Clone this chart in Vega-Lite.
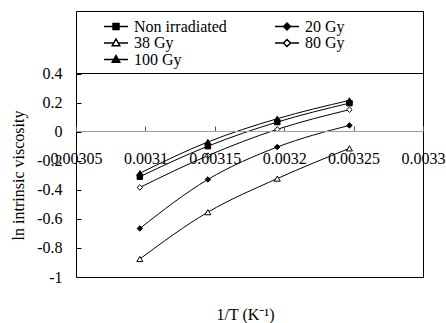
{
  "$schema": "https://vega.github.io/schema/vega-lite/v6.json",
  "autosize": "none",
  "padding": {"left": 76, "top": 11, "right": 23, "bottom": 46},
  "width": 347,
  "height": 266,
  "config": {
    "font": "Liberation Serif, Times New Roman, serif",
    "view": {"stroke": "#000000", "strokeWidth": 1},
    "axis": {"labelFont": "Liberation Serif, Times New Roman, serif", "titleFont": "Liberation Serif, Times New Roman, serif", "labelFontSize": 16, "titleFontSize": 16, "labelColor": "#000", "titleColor": "#000", "titleFontWeight": "normal", "grid": false},
    "legend": {"labelFont": "Liberation Serif, Times New Roman, serif", "labelFontSize": 16, "labelColor": "#000"}
  },
  "data": {"values": [
    {"invT": 0.003096, "lnv": -0.310, "series": "Non irradiated"},
    {"invT": 0.003145, "lnv": -0.100, "series": "Non irradiated"},
    {"invT": 0.003195, "lnv": 0.066, "series": "Non irradiated"},
    {"invT": 0.003247, "lnv": 0.196, "series": "Non irradiated"},
    {"invT": 0.003096, "lnv": -0.666, "series": "20 Gy"},
    {"invT": 0.003145, "lnv": -0.329, "series": "20 Gy"},
    {"invT": 0.003195, "lnv": -0.106, "series": "20 Gy"},
    {"invT": 0.003247, "lnv": 0.043, "series": "20 Gy"},
    {"invT": 0.003096, "lnv": -0.876, "series": "38 Gy"},
    {"invT": 0.003145, "lnv": -0.554, "series": "38 Gy"},
    {"invT": 0.003195, "lnv": -0.323, "series": "38 Gy"},
    {"invT": 0.003247, "lnv": -0.115, "series": "38 Gy"},
    {"invT": 0.003096, "lnv": -0.384, "series": "80 Gy"},
    {"invT": 0.003145, "lnv": -0.165, "series": "80 Gy"},
    {"invT": 0.003195, "lnv": 0.016, "series": "80 Gy"},
    {"invT": 0.003247, "lnv": 0.151, "series": "80 Gy"},
    {"invT": 0.003096, "lnv": -0.286, "series": "100 Gy"},
    {"invT": 0.003145, "lnv": -0.071, "series": "100 Gy"},
    {"invT": 0.003195, "lnv": 0.089, "series": "100 Gy"},
    {"invT": 0.003247, "lnv": 0.215, "series": "100 Gy"}
  ]},
  "encoding": {
    "x": {"field": "invT", "type": "quantitative",
      "scale": {"domain": [0.00305, 0.0033], "nice": false, "zero": false},
      "axis": {"orient": "bottom", "offset": -146, "values": [0.00305, 0.0031, 0.00315, 0.0032, 0.00325, 0.0033],
        "labelExpr": "toString(datum.value)", "labelOverlap": false, "labelFlush": false, "labelBound": false,
        "domainColor": "#a0a0a0", "tickColor": "#555555", "tickSize": {"expr": "-5"}, "labelPadding": 32, "labelBaseline": "middle",
        "title": "1/T (K⁻¹)", "titleX": 169, "titleY": 188, "titleAlign": "center", "titleBaseline": "alphabetic", "zindex": 1}},
    "y": {"field": "lnv", "type": "quantitative",
      "scale": {"domain": [-1, 0.83], "nice": false, "zero": false},
      "axis": {"values": [-1, -0.8, -0.6, -0.4, -0.2, 0, 0.2, 0.4], "labelExpr": "toString(datum.value)",
        "domain": false, "tickColor": "#000", "tickSize": {"expr": "-5"}, "labelPadding": 19, "labelBaseline": "middle",
        "title": "ln intrinsic viscosity", "titleAngle": 270, "titleX": -53, "titleY": 164, "titleAlign": "center", "titleBaseline": "alphabetic"}}
  },
  "layer": [
    {"mark": {"type": "rule", "color": "#000", "strokeWidth": 1}, "encoding": {"y": {"datum": 0.4}, "x": {"value": 0}, "x2": {"value": 347}}},
    {"mark": {"type": "line", "color": "#000", "strokeWidth": 1, "interpolate": "monotone"},
      "encoding": {"detail": {"field": "series"}}},
    {"transform": [{"filter": "datum.series === 'Non irradiated'"}],
      "mark": {"type": "point", "shape": "square", "filled": true, "fill": "#000", "stroke": "#000", "strokeWidth": 1, "opacity": 1, "size": 30}},
    {"transform": [{"filter": "datum.series === '20 Gy'"}],
      "mark": {"type": "point", "shape": "diamond", "filled": true, "fill": "#000", "stroke": "#000", "strokeWidth": 1, "opacity": 1, "size": 30}},
    {"transform": [{"filter": "datum.series === '38 Gy'"}],
      "mark": {"type": "point", "shape": "triangle-up", "filled": true, "fill": "#fff", "stroke": "#000", "strokeWidth": 1, "opacity": 1, "size": 36}},
    {"transform": [{"filter": "datum.series === '80 Gy'"}],
      "mark": {"type": "point", "shape": "diamond", "filled": true, "fill": "#fff", "stroke": "#000", "strokeWidth": 1, "opacity": 1, "size": 30}},
    {"transform": [{"filter": "datum.series === '100 Gy'"}],
      "mark": {"type": "point", "shape": "triangle-up", "filled": true, "fill": "#000", "stroke": "#000", "strokeWidth": 1, "opacity": 1, "size": 36}},
    {"transform": [{"filter": "false"}],
      "mark": {"type": "point", "filled": true, "stroke": "#000", "strokeWidth": 1, "opacity": 1, "size": 100},
      "encoding": {
        "shape": {"field": "series", "type": "nominal", "title": null,
          "scale": {"domain": ["Non irradiated", "20 Gy", "38 Gy", "80 Gy", "100 Gy"], "range": ["M-2.4,0H2.4M-0.6,-0.6H0.6V0.6H-0.6Z", "M-2.4,0H2.4M0,-0.7L0.7,0L0,0.7L-0.7,0Z", "M-2.4,0H-0.45M0.45,0H2.4M0,-0.8L0.75,0.55H-0.75Z", "M-2.4,0H-0.7M0.7,0H2.4M0,-0.7L0.7,0L0,0.7L-0.7,0Z", "M-2.4,0H2.4M0,-0.8L0.75,0.55H-0.75Z"]},
          "legend": {"orient": "none", "direction": "horizontal", "legendX": 32, "legendY": 7.5, "columns": 2, "columnPadding": 45, "rowPadding": 0.5,
            "title": null, "padding": 0, "symbolSize": 100, "labelOffset": 10,
            "encode": {"symbols": {"stroke": {"value": "#000"}, "strokeWidth": {"value": 1}}}}},
        "fill": {"field": "series", "type": "nominal", "title": null,
          "scale": {"domain": ["Non irradiated", "20 Gy", "38 Gy", "80 Gy", "100 Gy"], "range": ["#000", "#000", "#fff", "#fff", "#000"]},
          "legend": {"orient": "none", "direction": "horizontal", "legendX": 32, "legendY": 7.5, "columns": 2, "columnPadding": 45, "rowPadding": 0.5,
            "title": null, "padding": 0, "symbolSize": 100, "labelOffset": 10,
            "encode": {"symbols": {"stroke": {"value": "#000"}, "strokeWidth": {"value": 1}}}}}
      }}
  ]
}
